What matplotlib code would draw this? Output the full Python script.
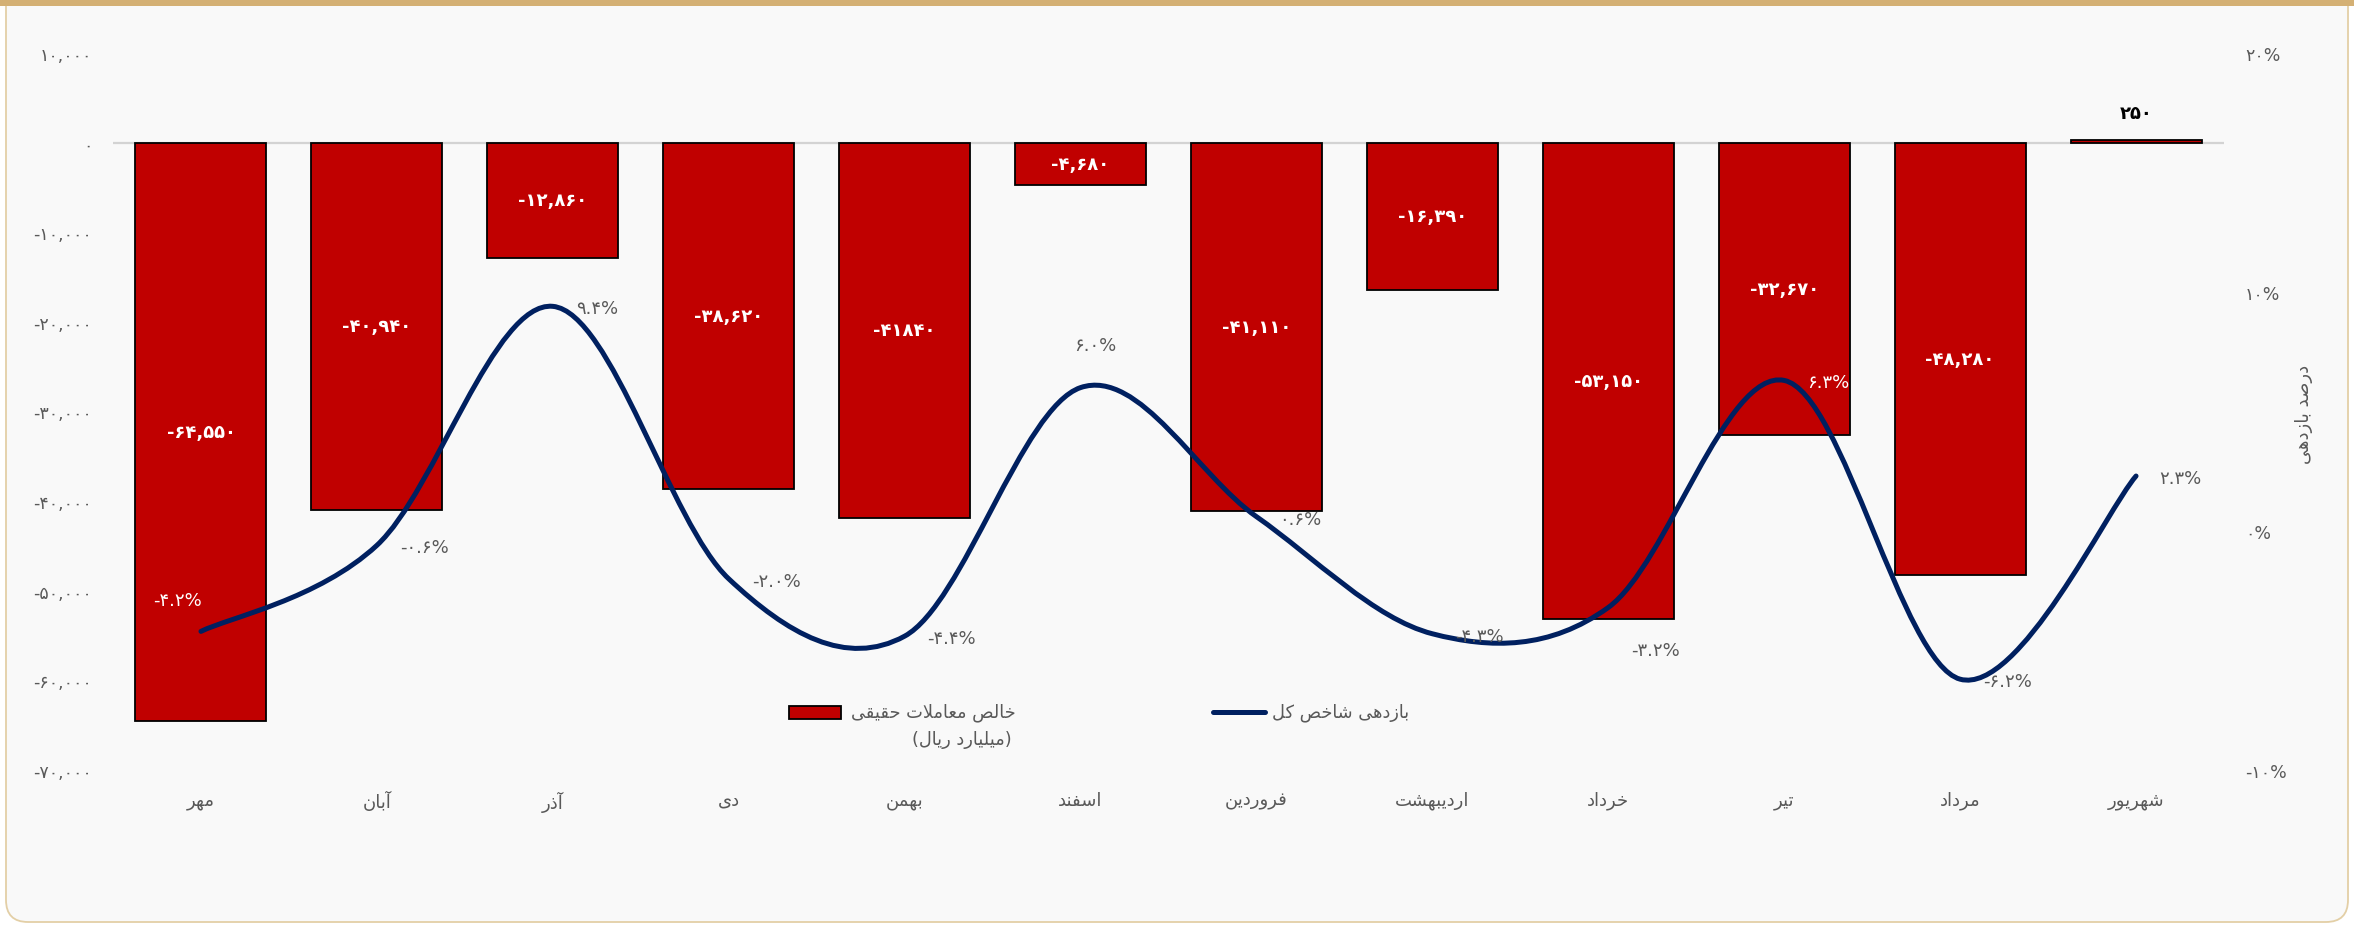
import matplotlib
matplotlib.use("Agg")
import matplotlib.pyplot as plt
import matplotlib.transforms as mtransforms
from matplotlib.patches import FancyBboxPatch, Rectangle, PathPatch
from matplotlib.path import Path
from matplotlib.lines import Line2D
from matplotlib.ticker import FuncFormatter, FixedLocator

# ---------------- data ----------------
months = ["مهر", "آبان", "آذر", "دی", "بهمن", "اسفند", "فروردین",
          "اردیبهشت", "خرداد", "تیر", "مرداد", "شهریور"]
net_real = [-64550, -40940, -12860, -38620, -41840, -4680, -41110,
            -16390, -53150, -32670, -48280, 250]
index_return = [-4.2, -0.6, 9.4, -2.0, -4.4, 6.0, 0.6, -4.3, -3.2, 6.3, -6.2, 2.3]
left_ticks = [10000, 0, -10000, -20000, -30000, -40000, -50000, -60000, -70000]
right_ticks = [20, 10, 0, -10]
legend_bar = "خالص معاملات حقیقی"
legend_bar_unit = "(میلیارد ریال)"
legend_line = "بازدهی شاخص کل"
right_axis_title = "درصد بازدهی"

# ---------------- Persian shaping helpers ----------------
_FORMS = {
    '\u0627': ('\uFE8D', '\uFE8E', None, None),
    '\u0622': ('\uFE81', '\uFE82', None, None),
    '\u0628': ('\uFE8F', '\uFE90', '\uFE91', '\uFE92'),
    '\u067E': ('\uFB56', '\uFB57', '\uFB58', '\uFB59'),
    '\u062A': ('\uFE95', '\uFE96', '\uFE97', '\uFE98'),
    '\u062B': ('\uFE99', '\uFE9A', '\uFE9B', '\uFE9C'),
    '\u062C': ('\uFE9D', '\uFE9E', '\uFE9F', '\uFEA0'),
    '\u0686': ('\uFB7A', '\uFB7B', '\uFB7C', '\uFB7D'),
    '\u062D': ('\uFEA1', '\uFEA2', '\uFEA3', '\uFEA4'),
    '\u062E': ('\uFEA5', '\uFEA6', '\uFEA7', '\uFEA8'),
    '\u062F': ('\uFEA9', '\uFEAA', None, None),
    '\u0630': ('\uFEAB', '\uFEAC', None, None),
    '\u0631': ('\uFEAD', '\uFEAE', None, None),
    '\u0632': ('\uFEAF', '\uFEB0', None, None),
    '\u0698': ('\uFB8A', '\uFB8B', None, None),
    '\u0633': ('\uFEB1', '\uFEB2', '\uFEB3', '\uFEB4'),
    '\u0634': ('\uFEB5', '\uFEB6', '\uFEB7', '\uFEB8'),
    '\u0635': ('\uFEB9', '\uFEBA', '\uFEBB', '\uFEBC'),
    '\u0636': ('\uFEBD', '\uFEBE', '\uFEBF', '\uFEC0'),
    '\u0637': ('\uFEC1', '\uFEC2', '\uFEC3', '\uFEC4'),
    '\u0638': ('\uFEC5', '\uFEC6', '\uFEC7', '\uFEC8'),
    '\u0639': ('\uFEC9', '\uFECA', '\uFECB', '\uFECC'),
    '\u063A': ('\uFECD', '\uFECE', '\uFECF', '\uFED0'),
    '\u0641': ('\uFED1', '\uFED2', '\uFED3', '\uFED4'),
    '\u0642': ('\uFED5', '\uFED6', '\uFED7', '\uFED8'),
    '\u06A9': ('\uFB8E', '\uFB8F', '\uFB90', '\uFB91'),
    '\u06AF': ('\uFB92', '\uFB93', '\uFB94', '\uFB95'),
    '\u0644': ('\uFEDD', '\uFEDE', '\uFEDF', '\uFEE0'),
    '\u0645': ('\uFEE1', '\uFEE2', '\uFEE3', '\uFEE4'),
    '\u0646': ('\uFEE5', '\uFEE6', '\uFEE7', '\uFEE8'),
    '\u0648': ('\uFEED', '\uFEEE', None, None),
    '\u0647': ('\uFEE9', '\uFEEA', '\uFEEB', '\uFEEC'),
    '\u06CC': ('\uFBFC', '\uFBFD', '\uFBFE', '\uFBFF'),
}


def _shape(s):
    s = s.replace('\u064A', '\u06CC').replace('\u0643', '\u06A9')
    out = []
    prev_joins = False
    i, n = 0, len(s)
    while i < n:
        c = s[i]
        if c not in _FORMS:
            out.append(c)
            prev_joins = False
            i += 1
            continue
        if c == '\u0644' and i + 1 < n and s[i + 1] in ('\u0627', '\u0622'):
            if s[i + 1] == '\u0627':
                out.append('\uFEFC' if prev_joins else '\uFEFB')
            else:
                out.append('\uFEF6' if prev_joins else '\uFEF5')
            prev_joins = False
            i += 2
            continue
        nxt = s[i + 1] if i + 1 < n else None
        iso, fin, ini, med = _FORMS[c]
        can_next = ini is not None and nxt is not None and nxt in _FORMS
        if prev_joins and can_next:
            g = med
        elif prev_joins:
            g = fin
        elif can_next:
            g = ini
        else:
            g = iso
        out.append(g)
        prev_joins = can_next
        i += 1
    return ''.join(out)


def fa_text(s):
    vis = _shape(s)[::-1]
    return vis.translate(str.maketrans({'(': ')', ')': '('}))


_DIG = str.maketrans('0123456789', '۰۱۲۳۴۵۶۷۸۹')


def fa_num(s):
    return s.translate(_DIG)


# ---------------- style ----------------
plt.rcParams['font.family'] = ['DejaVu Sans']
GREY = '#595959'
RED = '#C00000'
NAVY = '#002060'
W, H = 2354, 928

fig = plt.figure(figsize=(W / 100, H / 100), dpi=100)
fig.patch.set_facecolor('white')

ident = mtransforms.IdentityTransform()
card = FancyBboxPatch((6, 5), W - 12, H + 40, boxstyle="round,pad=0,rounding_size=22",
                      transform=ident, fc='#F9F9F9', ec='#E3CFA6', lw=1.3, zorder=-10)
fig.add_artist(card)
fig.add_artist(Rectangle((0, H - 7), W, 7, transform=ident, fc='#D4B074', ec='none', zorder=-9))

ax = fig.add_axes([113 / W, 1 - 771 / H, (2224 - 113) / W, (771 - 54) / H])
ax.patch.set_alpha(0)
x = list(range(len(months)))

ax.axhline(0, color='#D3D3D3', lw=1.6, zorder=0.5)
ax.bar(x, net_real, width=0.745, color=RED, edgecolor='black', linewidth=1.3, zorder=2)
ax.set_xlim(-0.5, len(months) - 0.5)
ax.set_ylim(-70000, 10000)
ax.yaxis.set_major_locator(FixedLocator(left_ticks))
ax.yaxis.set_major_formatter(FuncFormatter(lambda v, _: fa_num(f"{int(round(v)):,}")))
ax.set_xticks(x)
ax.set_xticklabels([fa_text(m) for m in months])
ax.tick_params(axis='x', length=0, pad=15, labelsize=13, labelcolor=GREY)
ax.tick_params(axis='y', length=0, pad=15, labelsize=12.5, labelcolor=GREY)
for sp in ax.spines.values():
    sp.set_visible(False)

# bar labels
bar_texts = [fa_num(f"{v:,}") for v in net_real]
bar_texts[4] = fa_num(str(net_real[4]))  # source label has no separator
for i, v in enumerate(net_real):
    if v < 0:
        ax.text(i, v / 2, bar_texts[i], ha='center', va='center', color='white',
                fontsize=13, fontweight='bold', zorder=3)
    else:
        ax.annotate(bar_texts[i], xy=(i, v), xytext=(0, 20), textcoords='offset points',
                    ha='center', va='center', color='black', fontsize=13,
                    fontweight='bold', zorder=3)

# secondary axis with smoothed line
ax2 = ax.twinx()
ax2.set_ylim(-10, 20)
ax2.yaxis.set_major_locator(FixedLocator(right_ticks))
ax2.yaxis.set_major_formatter(FuncFormatter(lambda v, _: fa_num(f"{int(round(v))}%")))
ax2.tick_params(axis='y', length=0, pad=15, labelsize=12.5, labelcolor=GREY)
for sp in ax2.spines.values():
    sp.set_visible(False)

pts = list(zip(x, index_return))
verts = [pts[0]]
codes = [Path.MOVETO]
n = len(pts)
for i in range(n - 1):
    p0 = pts[max(i - 1, 0)]
    p1 = pts[i]
    p2 = pts[i + 1]
    p3 = pts[min(i + 2, n - 1)]
    c1 = (p1[0] + (p2[0] - p0[0]) / 6, p1[1] + (p2[1] - p0[1]) / 6)
    c2 = (p2[0] - (p3[0] - p1[0]) / 6, p2[1] - (p3[1] - p1[1]) / 6)
    verts += [c1, c2, p2]
    codes += [Path.CURVE4, Path.CURVE4, Path.CURVE4]
ax2.add_patch(PathPatch(Path(verts, codes), fill=False, edgecolor=NAVY, lw=3.6,
                        capstyle='round', joinstyle='round', zorder=4))

# percent labels: (dx px, dy px, ha, color)
label_layout = {0: (-23, 31, 'center', 'white'), 5: (15, 43, 'center', GREY),
                8: (23, -43, 'left', GREY), 9: (23, -2, 'left', 'white')}
for i, v in enumerate(index_return):
    dx, dy, ha, col = label_layout.get(i, (23, -2, 'left', GREY))
    ax2.annotate(fa_num(f"{v:.1f}%"), xy=(i, v), xytext=(dx * 0.72, dy * 0.72),
                 textcoords='offset points', ha=ha, va='center', color=col,
                 fontsize=13, zorder=5)

# right axis title
fig.text(2304 / W, 1 - 414 / H, fa_text(right_axis_title), rotation=90, ha='center',
         va='center', fontsize=13, color=GREY)

# legend (drawn manually to mimic the RTL layout)
fig.add_artist(Rectangle((789, H - 720), 52, 13, transform=ident, fc=RED, ec='black',
                         lw=1.3, zorder=6))
fig.text(1016 / W, 1 - 713 / H, fa_text(legend_bar), ha='right', va='center',
         fontsize=12.8, color=GREY)
fig.text(1012 / W, 1 - 740 / H, fa_text(legend_bar_unit), ha='right', va='center',
         fontsize=12.8, color=GREY)
fig.add_artist(Line2D([1213, 1265], [H - 713, H - 713], transform=ident, color=NAVY,
                      lw=3.6, solid_capstyle='round', zorder=6))
fig.text(1272 / W, 1 - 713 / H, fa_text(legend_line), ha='left', va='center',
         fontsize=12.8, color=GREY)

fig.savefig('out.png', dpi=100)
